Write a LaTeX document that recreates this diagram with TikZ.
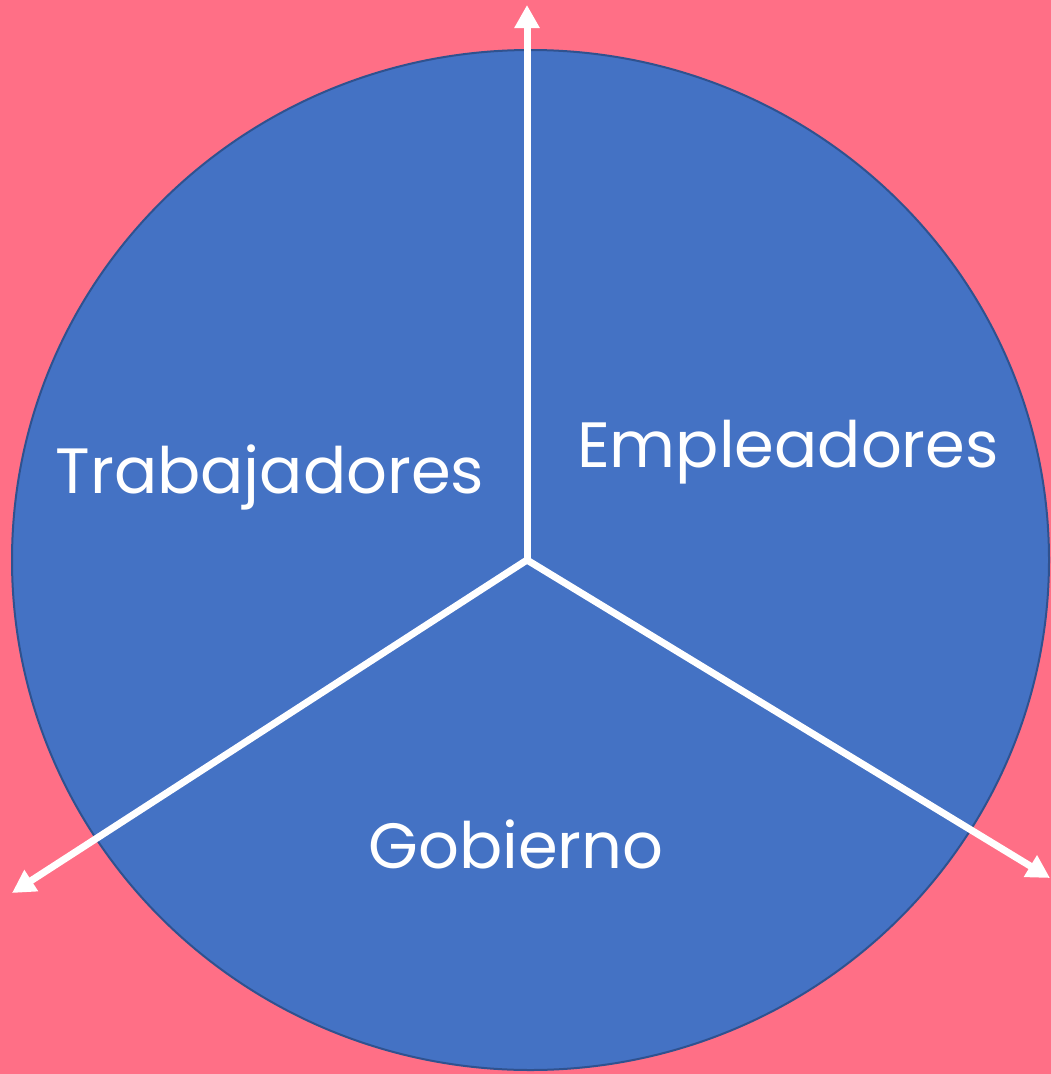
\documentclass[tikz,border=0pt]{standalone}
\usepackage{fontspec}
\setmainfont{Poppins}
\usetikzlibrary{arrows.meta}
\definecolor{fondo}{HTML}{FF6F86}
\definecolor{disco}{HTML}{4472C4}
\definecolor{borde}{HTML}{2F528F}

\begin{document}
\begin{tikzpicture}[x=1pt,y=-1pt,
  eje/.style={white,line width=7pt,-{Triangle[length=23pt,width=24pt]}},
  sector/.style={text=white,font=\fontsize{64}{70}\selectfont,anchor=base}]
\fill[fondo] (0,0) rectangle (1051,1074);
\useasboundingbox (0,0) rectangle (1051,1074);
\draw[fill=disco,draw=borde,line width=2pt] (530.5,560) ellipse [x radius=518.5,y radius=510];
\coordinate (o) at (527,560);
\coordinate (arriba) at (527,5);
\coordinate (izq) at (12,893);
\coordinate (der) at (1050,878);
\draw[eje] (o) -- (arriba);
\draw[eje] (o) -- (izq);
\draw[eje] (o) -- (der);
\node[sector] (trab) at (270,493) {Trabajadores};
\node[sector] (emp) at (788,467) {Empleadores};
\node[sector] (gob) at (516,868) {Gobierno};
\end{tikzpicture}
\end{document}
